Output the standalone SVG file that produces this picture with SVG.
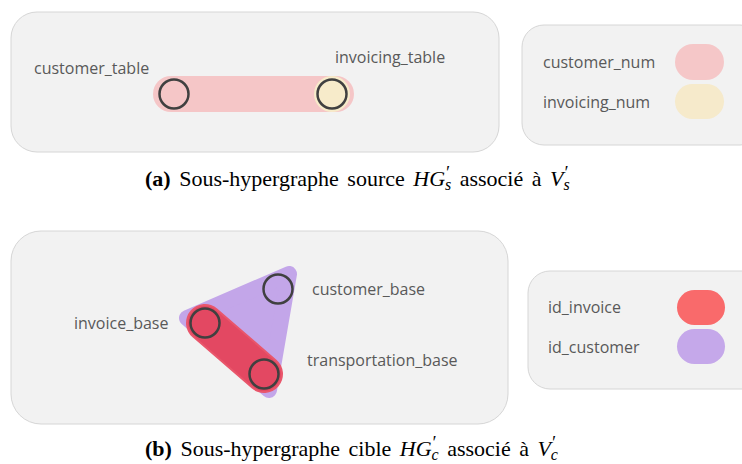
<svg xmlns="http://www.w3.org/2000/svg" width="742" height="464" viewBox="0 0 742 464">
<style>
.panel{fill:#f2f2f2;stroke:#d6d6d6;stroke-width:1}
.lbl{font-family:"Open Sans","Liberation Sans",sans-serif;font-size:16px;fill:#595959}
.node{fill:none;stroke:#404040;stroke-width:2.5}
.cap{font-family:"Liberation Serif","DejaVu Serif",serif;font-size:22px;fill:#000;word-spacing:3px}
.it{font-style:italic}
.pr{font-style:italic;font-size:18px}
.sb{font-style:italic;font-size:16px}
</style>
<rect width="742" height="464" fill="#ffffff"/>
<!-- Panel (a) -->
<g id="panel-a">
<rect class="panel" x="11" y="12" width="488" height="140" rx="26"/>
</g>
<g id="edges-a">
<rect x="153" y="76" width="201" height="36" rx="18" fill="#f5c6c7"/>
<circle cx="332" cy="94" r="18" fill="#f7ebca"/>
</g>
<g id="customer_table">
<circle class="node" cx="174" cy="94" r="14.5"/>
<text class="lbl" x="34" y="74">customer_table</text>
</g>
<g id="invoicing_table">
<circle class="node" cx="332" cy="94" r="14.5"/>
<text class="lbl" x="335" y="63">invoicing_table</text>
</g>
<g id="legend-a">
<rect class="panel" x="522" y="25" width="240" height="120" rx="22"/>
<text class="lbl" x="543" y="68">customer_num</text>
<rect x="675" y="44" width="49" height="36" rx="18" fill="#f5c7c8"/>
<text class="lbl" x="543" y="108">invoicing_num</text>
<rect x="675" y="84" width="49" height="35" rx="17.5" fill="#f6eacb"/>
</g>
<g id="caption-a">
<text class="cap" x="145" y="186"><tspan font-weight="bold">(a)</tspan> Sous-hypergraphe source <tspan class="it">HG</tspan><tspan class="pr" dy="-7">′</tspan><tspan class="sb" dx="-4" dy="11">s</tspan><tspan dy="-4"> associé à </tspan><tspan class="it">V</tspan><tspan class="pr" dy="-7">′</tspan><tspan class="sb" dx="-4" dy="11">s</tspan></text>
</g>
<!-- Panel (b) -->
<g id="panel-b">
<rect class="panel" x="11" y="231" width="497" height="193" rx="30"/>
</g>
<g id="edges-b">
<polygon points="289,274 187,318 269,390" fill="#c3a6e9" stroke="#c3a6e9" stroke-width="16" stroke-linejoin="round"/>
<line x1="205" y1="323" x2="264" y2="374" stroke="#e9566b" stroke-width="38" stroke-linecap="round"/>
<line x1="205" y1="323" x2="264" y2="374" stroke="#e34862" stroke-width="34" stroke-linecap="round"/>
</g>
<g id="customer_base">
<circle class="node" cx="278" cy="289" r="14.5"/>
<text class="lbl" x="312" y="295">customer_base</text>
</g>
<g id="invoice_base">
<circle class="node" cx="205" cy="323" r="14.5"/>
<text class="lbl" x="74" y="329">invoice_base</text>
</g>
<g id="transportation_base">
<circle class="node" cx="264" cy="374" r="14.5"/>
<text class="lbl" x="307" y="366">transportation_base</text>
</g>
<g id="legend-b">
<rect class="panel" x="528" y="271" width="240" height="118" rx="22"/>
<text class="lbl" x="548" y="313">id_invoice</text>
<rect x="677" y="290" width="48" height="35" rx="17.5" fill="#f96a6b"/>
<text class="lbl" x="548" y="353">id_customer</text>
<rect x="677" y="329" width="48" height="35" rx="17.5" fill="#c5a8ea"/>
</g>
<g id="caption-b">
<text class="cap" x="145" y="456"><tspan font-weight="bold">(b)</tspan> Sous-hypergraphe cible <tspan class="it">HG</tspan><tspan class="pr" dy="-7">′</tspan><tspan class="sb" dx="-4" dy="11">c</tspan><tspan dy="-4"> associé à </tspan><tspan class="it">V</tspan><tspan class="pr" dy="-7">′</tspan><tspan class="sb" dx="-4" dy="11">c</tspan></text>
</g>
</svg>
